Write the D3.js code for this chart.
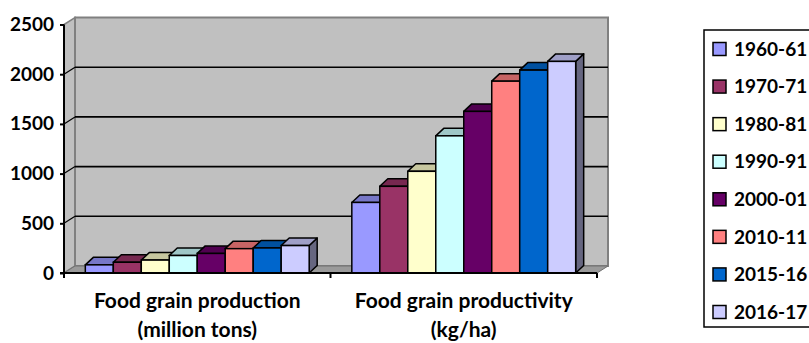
<!DOCTYPE html>
<html>
<head>
<meta charset="utf-8">
<script src="https://cdn.jsdelivr.net/npm/d3@7"></script>
<style>
  html, body { margin: 0; padding: 0; background: #fff; }
  text { font-family: Lato, "Liberation Sans", sans-serif; font-weight: bold; fill: #000; }
</style>
</head>
<body>
<svg id="chart" width="809" height="343"></svg>
<script>
const categories = [["Food grain production", "(million tons)"], ["Food grain productivity", "(kg/ha)"]];
const seriesNames = ["1960-61", "1970-71", "1980-81", "1990-91", "2000-01", "2010-11", "2015-16", "2016-17"];
const production = [82, 108, 130, 176, 197, 245, 252, 276];
const productivity = [710, 872, 1023, 1380, 1626, 1930, 2041, 2129];
const seriesColors = ["#9999FF", "#993366", "#FFFFCC", "#CCFFFF", "#660066", "#FF8080", "#0066CC", "#CCCCFF"];
const yTicks = [0, 500, 1000, 1500, 2000, 2500];

const values = [production, productivity];

const svg = d3.select("#chart");
const x0 = 64, x1 = 597;
const y = d3.scaleLinear().domain([0, 2500]).range([273, 24.5]);
const wdx = 11, wdy = -7;   // wall depth offset
const bdx = 8, bdy = -7.5;  // bar depth offset

const xCat = d3.scaleBand().domain(d3.range(categories.length)).range([x0, x1])
  .paddingInner(0.16).paddingOuter(0.08);
const xSer = d3.scaleBand().domain(d3.range(seriesNames.length)).range([0, xCat.bandwidth()]);

const shade = (c, k) => { const r = d3.rgb(c); return d3.rgb(r.r * k, r.g * k, r.b * k).toString(); };
const pts = a => a.map(p => p.join(",")).join(" ");

const y0 = y(0), yTop = y(2500);

// left side wall
svg.append("polygon")
  .attr("points", pts([[x0, y0], [x0, yTop], [x0 + wdx, yTop + wdy], [x0 + wdx, y0 + wdy]]))
  .attr("fill", "#c0c0c0").attr("stroke", "#808080").attr("stroke-width", 1.5);
// back wall
svg.append("rect")
  .attr("x", x0 + wdx).attr("y", yTop + wdy)
  .attr("width", x1 - x0).attr("height", y0 - yTop)
  .attr("fill", "#c0c0c0").attr("stroke", "#808080").attr("stroke-width", 2);
// floor
svg.append("polygon")
  .attr("points", pts([[x0, y0], [x1, y0], [x1 + wdx, y0 + wdy], [x0 + wdx, y0 + wdy]]))
  .attr("fill", "#9a9a9a").attr("stroke", "#707070").attr("stroke-width", 1);

// gridlines on back wall + left wall diagonals
const grid = yTicks.filter(v => v > 0 && v < 2500);
svg.append("g").selectAll("line.g").data(grid).join("line")
  .attr("x1", x0 + wdx).attr("x2", x1 + wdx)
  .attr("y1", d => y(d) + wdy).attr("y2", d => y(d) + wdy)
  .attr("stroke", "#000").attr("stroke-width", 1.6);
svg.append("g").selectAll("line.d").data(grid).join("line")
  .attr("x1", x0).attr("x2", x0 + wdx)
  .attr("y1", d => y(d)).attr("y2", d => y(d) + wdy)
  .attr("stroke", "#000").attr("stroke-width", 1.2);

// bars
const barsG = svg.append("g");
categories.forEach((cat, ci) => {
  seriesNames.forEach((s, si) => {
    const v = values[ci][si];
    const bx = xCat(ci) + xSer(si), bw = xSer.bandwidth();
    const yv = y(v);
    const g = barsG.append("g");
    g.append("polygon")
      .attr("points", pts([[bx + bw, yv], [bx + bw + bdx, yv + bdy], [bx + bw + bdx, y0 + bdy], [bx + bw, y0]]))
      .attr("fill", shade(seriesColors[si], 0.5)).attr("stroke", "#000").attr("stroke-width", 1.5).attr("stroke-linejoin", "round");
    g.append("polygon")
      .attr("points", pts([[bx, yv], [bx + bdx, yv + bdy], [bx + bw + bdx, yv + bdy], [bx + bw, yv]]))
      .attr("fill", shade(seriesColors[si], 0.78)).attr("stroke", "#000").attr("stroke-width", 1.5).attr("stroke-linejoin", "round");
    g.append("rect")
      .attr("x", bx).attr("y", yv).attr("width", bw).attr("height", y0 - yv)
      .attr("fill", seriesColors[si]).attr("stroke", "#000").attr("stroke-width", 1.5);
  });
});

// y axis
const yAxis = d3.axisLeft(y).tickValues(yTicks).tickSize(4).tickPadding(6).tickFormat(d3.format("d"));
const ya = svg.append("g").attr("transform", `translate(${x0},0)`).call(yAxis);
ya.select(".domain").attr("stroke", "#000").attr("stroke-width", 2).attr("d", `M-4,${y0}H0V${yTop}`);
ya.selectAll(".tick line").attr("stroke", "#000").attr("stroke-width", 2);
ya.selectAll(".tick text").attr("font-size", 19).attr("font-family", "Lato, 'Liberation Sans', sans-serif").attr("font-weight", "bold").attr("fill", "#000");

// x axis
const xa = svg.append("g").attr("transform", `translate(0,${y0})`);
xa.append("line").attr("x1", x0).attr("x2", x1).attr("y1", 0).attr("y2", 0).attr("stroke", "#000").attr("stroke-width", 2);
const bounds = [x0, (xCat(0) + xCat.bandwidth() + xCat(1)) / 2, x1];
xa.selectAll("line.t").data(bounds).join("line")
  .attr("x1", d => d).attr("x2", d => d).attr("y1", 0).attr("y2", 5)
  .attr("stroke", "#000").attr("stroke-width", 2);
categories.forEach((lines, ci) => {
  const cx = xCat(ci) + xCat.bandwidth() / 2;
  const t = svg.append("text").attr("text-anchor", "middle").attr("font-size", 21);
  lines.forEach((ln, li) => {
    t.append("tspan").attr("x", cx).attr("y", 308 + li * 29).text(ln);
  });
});

// legend
const lg = svg.append("g");
lg.append("rect").attr("x", 704).attr("y", 30).attr("width", 120).attr("height", 297)
  .attr("fill", "#fff").attr("stroke", "#000").attr("stroke-width", 1.5);
const ly = d3.scalePoint().domain(seriesNames).range([49, 312]);
const items = lg.selectAll("g.item").data(seriesNames).join("g")
  .attr("transform", d => `translate(0,${ly(d)})`);
items.append("rect").attr("x", 713).attr("y", -6.5).attr("width", 13).attr("height", 13)
  .attr("fill", (d, i) => seriesColors[i]).attr("stroke", "#000").attr("stroke-width", 1.5);
items.append("text").attr("x", 734).attr("y", 0).attr("dy", "0.35em").attr("font-size", 19).text(d => d);
</script>
</body>
</html>
